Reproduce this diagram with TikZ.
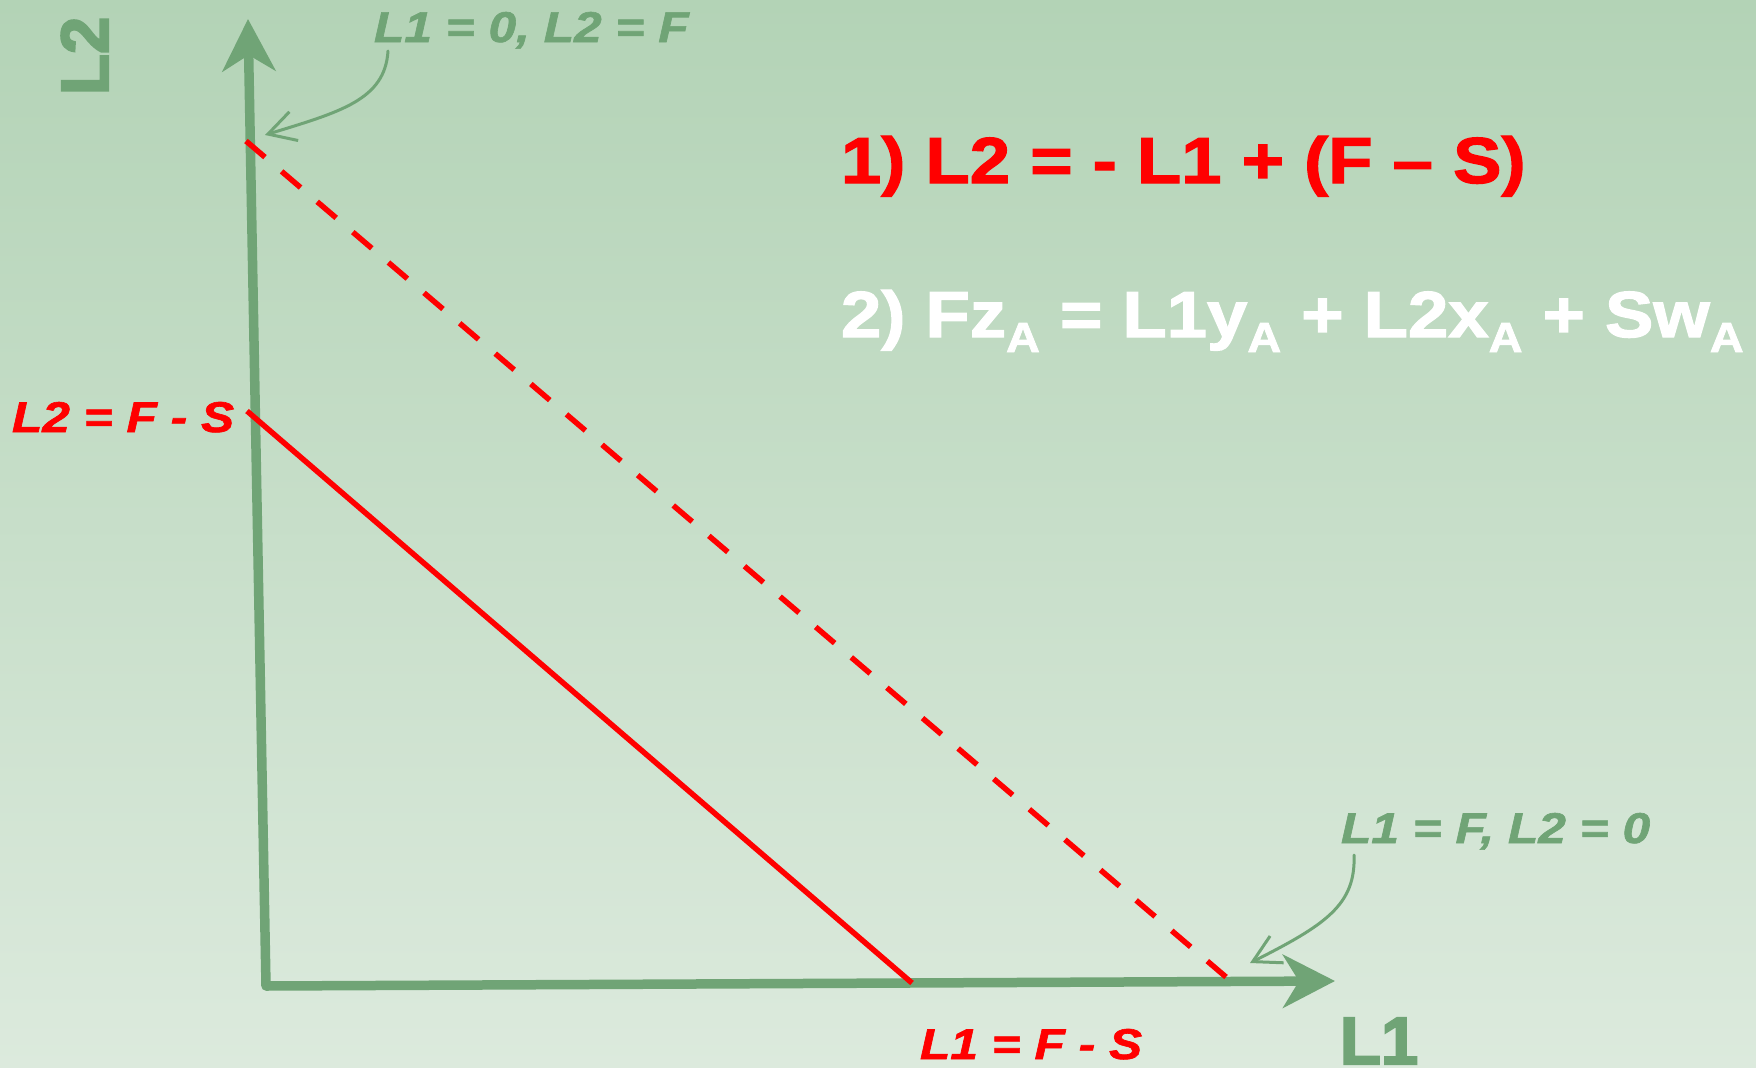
\documentclass[tikz,border=0pt]{standalone}
\usepackage{fontspec}
\usetikzlibrary{arrows.meta}
\newfontfamily\eqfont{Liberation Sans Bold}[FakeStretch=1.115,FakeBold=2]
\newfontfamily\lblfont{Liberation Sans Bold Italic}[FakeStretch=1.155,FakeBold=1.5]
\newfontfamily\axfont{Liberation Sans Bold}[FakeBold=3]
\definecolor{axgreen}{RGB}{112,164,118}
\definecolor{bgtop}{RGB}{179,211,182}
\definecolor{bgbot}{RGB}{220,234,221}
\definecolor{lred}{RGB}{255,0,0}
\newcommand\subA{{\fontsize{42}{42}\selectfont\raisebox{-15pt}{A}}}
\tikzset{
  axtip/.tip={Stealth[length=52pt,width=53pt,inset=16pt]},
  axisline/.style={draw=axgreen, line width=9.5pt, line join=round, arrows={axtip-axtip}},
  pointer/.style={draw=axgreen, line width=3pt, line cap=round, -{Straight Barb[length=27pt,width=30pt]}},
  redsolid/.style={draw=lred, line width=5.5pt},
  reddash/.style={draw=lred, line width=5.5pt, dash pattern=on 24.9pt off 21.9pt},
  txt/.style={inner sep=0pt, outer sep=0pt, anchor=base west},
  eqtxt/.style={txt, font=\eqfont\fontsize{65}{65}\selectfont},
  lbltxt/.style={txt, font=\lblfont\fontsize{43}{43}\selectfont},
  axtxt/.style={txt, text=axgreen, font=\axfont\fontsize{67}{67}\selectfont}
}
\begin{document}
\begin{tikzpicture}[x=1pt,y=-1pt]
\shade[top color=bgtop, bottom color=bgbot] (0,0) rectangle (1756,1068);
\useasboundingbox (0,0) rectangle (1756,1068);

% axes
\coordinate (O) at (266,986);
\coordinate (Ytip) at (248,19);
\coordinate (Xtip) at (1335,981);
\draw[axisline] (Ytip) -- (O) -- (Xtip);

% red lines
\coordinate (d1) at (246,141);
\coordinate (d2) at (1226,977);
\coordinate (s1) at (247,411);
\coordinate (s2) at (912,983);
\draw[reddash] (d1) -- (d2);
\draw[redsolid] (s1) -- (s2);

% axis labels
\node[axtxt, rotate=90] (ylab) at (108,95) {L2};
\node[axtxt] (xlab) at (1340,1064) {L1};

% point labels
\node[lbltxt, text=axgreen] (p1) at (374,42) {L1 = 0, L2 = F};
\node[lbltxt, text=axgreen] (p2) at (1341,843) {L1 = F, L2 = 0};
\node[lbltxt, text=lred] (q1) at (12,432) {L2 = F - S};
\node[lbltxt, text=lred] (q2) at (920,1059) {L1 = F - S};

% pointers
\coordinate (c1s) at (388,51);
\coordinate (c1e) at (265,135);
\draw[pointer] (c1s) .. controls (385,100) and (340,112) .. (c1e);
\coordinate (c2s) at (1354,855);
\coordinate (c2e) at (1250,963);
\draw[pointer] (c2s) .. controls (1356,905) and (1325,925) .. (c2e);

% equations
\node[eqtxt, text=lred] (eq1) at (841,183) {1) L2 = - L1 + (F – S)};
\node[eqtxt, text=white] (eq2) at (841,337) {2) Fz\subA{} = L1y\subA{} + L2x\subA{} + Sw\subA};
\end{tikzpicture}
\end{document}
